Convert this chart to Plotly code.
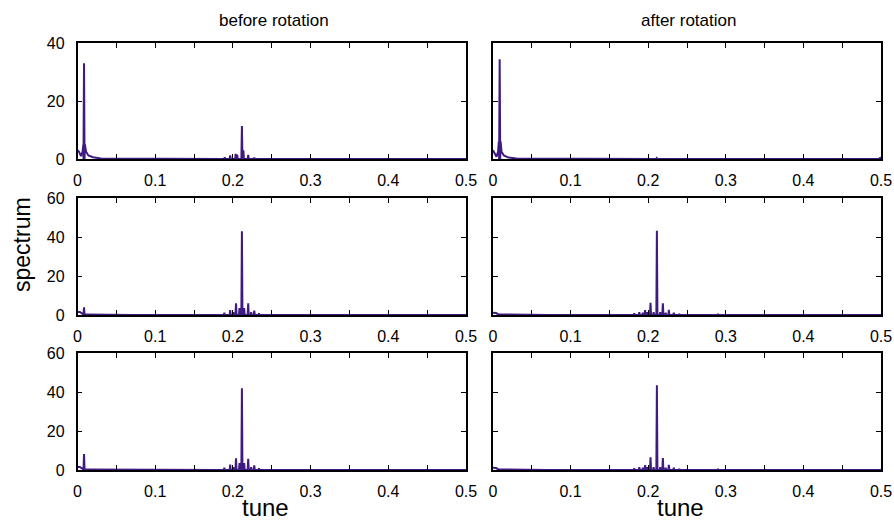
import plotly.graph_objects as go

# ---------------- data ----------------
tick_vals = [0, 0.05, 0.1, 0.15, 0.2, 0.25, 0.3, 0.35, 0.4, 0.45, 0.5]
tick_text = ["0", "", "0.1", "", "0.2", "", "0.3", "", "0.4", "", "0.5"]

# panel A: before rotation, row 1
a_base_tune = [0.0, 0.002, 0.0045, 0.0065, 0.0075, 0.0095, 0.011, 0.014, 0.02, 0.03]
a_base_spec = [3.0, 2.5, 1.0, 2.5, 5.0, 5.0, 2.5, 1.2, 0.6, 0.2]
a_peak_tune = [0.0084, 0.1895, 0.1965, 0.2035, 0.2055, 0.2116, 0.2135, 0.2197, 0.2275]
a_peak_spec = [33.0, 0.6, 1.2, 1.8, 1.5, 11.4, 3.0, 1.4, 0.5]

# panel B: after rotation, row 1
b_base_tune = [0.0, 0.002, 0.0045, 0.0065, 0.0075, 0.0098, 0.011, 0.014, 0.02, 0.03]
b_base_spec = [3.0, 2.0, 0.8, 2.5, 6.0, 6.0, 2.5, 1.2, 0.5, 0.2]
b_peak_tune = [0.0086, 0.211, 0.499]
b_peak_spec = [34.4, 0.3, 0.6]

# panel C: before rotation, row 2
c_base_tune = [0.0, 0.003, 0.006, 0.011]
c_base_spec = [1.5, 1.5, 0.8, 0.3]
c_peak_tune = [0.0084, 0.07, 0.189, 0.1965, 0.2005, 0.204, 0.2085, 0.2116, 0.2145,
               0.2197, 0.2235, 0.2275, 0.2335]
c_peak_spec = [3.9, 0.2, 1.2, 2.5, 1.5, 6.0, 3.5, 43.0, 3.5, 6.0, 1.5, 2.2, 0.8]

# panel D: after rotation, row 2
d_base_tune = [0.0, 0.004, 0.007]
d_base_spec = [1.2, 1.0, 0.3]
d_peak_tune = [0.07, 0.182, 0.1885, 0.193, 0.196, 0.199, 0.203, 0.207, 0.2112,
               0.2155, 0.2189, 0.2225, 0.2266, 0.233, 0.24, 0.29]
d_peak_spec = [0.3, 0.8, 1.5, 1.2, 2.5, 1.5, 6.3, 1.5, 43.2, 1.5, 6.0, 1.2, 2.6,
               1.2, 0.6, 0.3]

# panel E: before rotation, row 3
e_base_tune = [0.0, 0.003, 0.006, 0.011]
e_base_spec = [1.5, 1.5, 0.8, 0.3]
e_peak_tune = [0.0084, 0.189, 0.1965, 0.2005, 0.204, 0.2085, 0.2116, 0.2145,
               0.2197, 0.2235, 0.2275, 0.2335]
e_peak_spec = [8.2, 1.2, 2.8, 1.5, 6.0, 3.5, 41.9, 3.5, 5.8, 1.5, 2.4, 0.8]

# panel F: after rotation, row 3
f_base_tune = [0.0, 0.004, 0.007]
f_base_spec = [1.2, 1.0, 0.3]
f_peak_tune = [0.07, 0.182, 0.1885, 0.193, 0.196, 0.199, 0.203, 0.207, 0.2112,
               0.2155, 0.2189, 0.2225, 0.2266, 0.233, 0.24, 0.29]
f_peak_spec = [0.3, 0.8, 1.5, 1.2, 2.5, 1.5, 6.5, 1.5, 43.4, 1.5, 6.1, 1.2, 2.6,
               1.2, 0.6, 0.3]

y_ranges = [[0, 40], [0, 60], [0, 60]]
y_ticks = [[0, 20, 40], [0, 20, 40, 60], [0, 20, 40, 60]]

# ---------------- build ----------------
LINE = "#3f1a80"
HALF = 0.0007


def spectrum_line(bt, bs, pt, ps):
    pts = list(zip(bt, bs))
    for t, s in zip(pt, ps):
        pts += [(t - HALF, 0.0), (t, s), (t + HALF, 0.0)]
    pts.append((0.5, 0.0))
    pts.sort(key=lambda p: p[0])
    return [p[0] for p in pts], [p[1] for p in pts]


panels = [
    (a_base_tune, a_base_spec, a_peak_tune, a_peak_spec),
    (b_base_tune, b_base_spec, b_peak_tune, b_peak_spec),
    (c_base_tune, c_base_spec, c_peak_tune, c_peak_spec),
    (d_base_tune, d_base_spec, d_peak_tune, d_peak_spec),
    (e_base_tune, e_base_spec, e_peak_tune, e_peak_spec),
    (f_base_tune, f_base_spec, f_peak_tune, f_peak_spec),
]

W, H = 894, 523
col_dom = [[77.5 / W, 466 / W], [493 / W, 881 / W]]
row_px = [(43, 159), (198, 315), (353, 470)]
row_dom = [[1 - b / H, 1 - t / H] for t, b in row_px]

FONT = "Liberation Sans, Arial, sans-serif"
TICKFONT = dict(family=FONT, size=16, color="black")

fig = go.Figure()
layout = {}
for i, (bt, bs, pt, ps) in enumerate(panels):
    r, c = divmod(i, 2)
    n = i + 1
    xs, ys = spectrum_line(bt, bs, pt, ps)
    fig.add_trace(go.Scatter(x=xs, y=ys, mode="lines", line=dict(color=LINE, width=2),
                             xaxis=f"x{n}", yaxis=f"y{n}", showlegend=False,
                             hoverinfo="skip"))
    common = dict(showline=True, linecolor="black", linewidth=1.5, mirror="ticks",
                  ticks="inside", ticklen=5, tickwidth=1, tickcolor="black",
                  showgrid=False, zeroline=False, tickfont=TICKFONT, automargin=False,
                  ticklabeloverflow="allow")
    layout[f"xaxis{n}"] = dict(domain=col_dom[c], anchor=f"y{n}", range=[0, 0.5],
                               tickmode="array", tickvals=tick_vals, ticktext=tick_text,
                               ticklabelstandoff=6, **common)
    layout[f"yaxis{n}"] = dict(domain=row_dom[r], anchor=f"x{n}", range=y_ranges[r],
                               tickmode="array", tickvals=y_ticks[r],
                               ticklabelstandoff=8,
                               showticklabels=(c == 0), **common)

fig.update_layout(**layout)
fig.update_layout(width=W, height=H, margin=dict(l=0, r=0, t=0, b=0, autoexpand=False),
                  paper_bgcolor="white", plot_bgcolor="white")

ann = [
    dict(text="before rotation", x=274 / W, y=1 - 21 / H, yanchor="middle",
         font=dict(size=17, family=FONT, color="black")),
    dict(text="after rotation", x=688 / W, y=1 - 21 / H, yanchor="middle",
         font=dict(size=17, family=FONT, color="black")),
    dict(text="tune", x=265 / W, y=0, yanchor="bottom",
         font=dict(size=24, family=FONT, color="black")),
    dict(text="tune", x=680 / W, y=0, yanchor="bottom",
         font=dict(size=24, family=FONT, color="black")),
    dict(text="spectrum", x=22 / W, y=1 - 245 / H, yanchor="middle", textangle=-90,
         font=dict(size=23, family=FONT, color="black")),
]
for a in ann:
    a.update(xref="paper", yref="paper", showarrow=False, xanchor="center")
fig.update_layout(annotations=ann)

fig.write_html("out.html")
